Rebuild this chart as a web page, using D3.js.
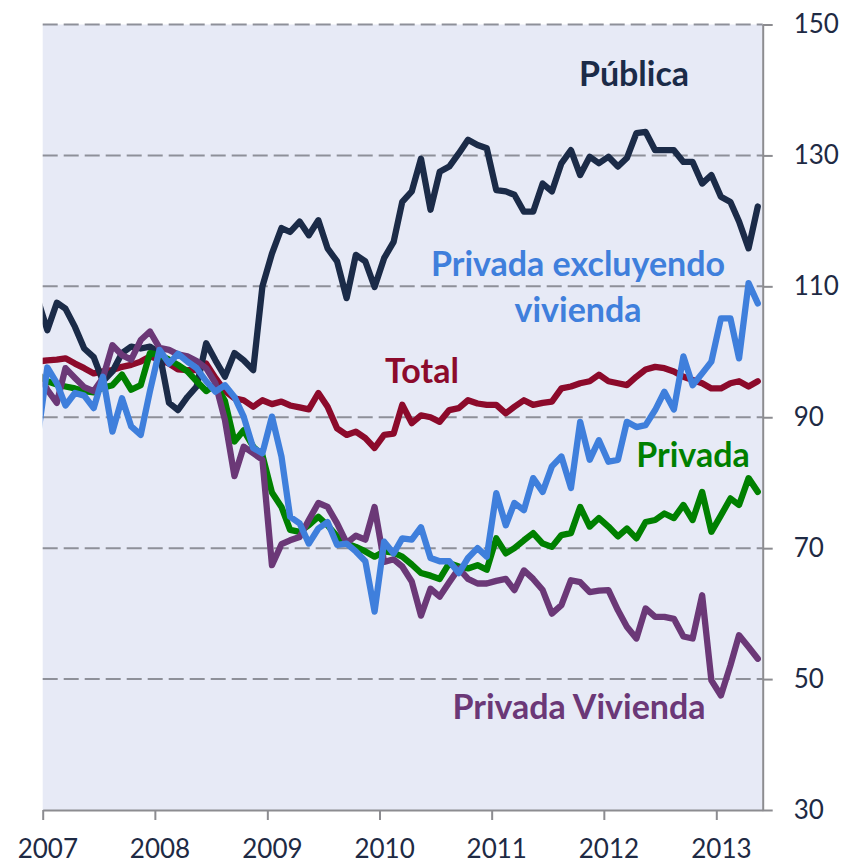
<!DOCTYPE html>
<html>
<head>
<meta charset="utf-8">
<script src="https://cdn.jsdelivr.net/npm/d3@7"></script>
<style>
  body { margin: 0; background: #fff; }
  svg { display: block; font-family: "Lato", "Open Sans", sans-serif; }
</style>
</head>
<body>
<div id="chart"></div>
<script>
// monthly index values, Dec 2006 .. May 2013
const publica = [108, 103.3, 107.5, 106.6, 103.8, 100.5, 99.2, 95.5, 97, 99.8, 100.8, 100.5, 100.8, 99.8, 92.2, 91.1, 93.1, 94.7, 101.3, 98.7, 96.2, 99.8, 98.7, 97.2, 110, 115, 118.9, 118.3, 119.9, 117.8, 120.1, 115.8, 113.8, 108.2, 114.8, 113.8, 109.9, 114.3, 116.8, 122.9, 124.5, 129.5, 121.7, 127.5, 128.3, 130.3, 132.4, 131.6, 131.1, 124.7, 124.5, 124, 121.4, 121.4, 125.7, 124.5, 128.8, 130.8, 127, 129.8, 128.8, 129.8, 128.3, 129.6, 133.4, 133.6, 130.8, 130.8, 130.8, 129, 129, 125.7, 127, 123.7, 122.9, 119.9, 115.8, 122.2];
const total = [98.5, 98.7, 98.8, 99, 98.2, 97.5, 96.7, 97, 97.2, 97.7, 98, 98.5, 99.3, 98.8, 98.2, 97.3, 97.2, 97.2, 98.2, 96, 94, 92.9, 92.6, 91.6, 92.6, 92, 92.4, 91.8, 91.5, 91.2, 93.7, 91.6, 88.3, 87.3, 87.8, 86.8, 85.3, 87.3, 87.5, 91.9, 89.1, 90.3, 90, 89.3, 91.1, 91.4, 92.6, 92.1, 91.9, 91.9, 90.6, 91.6, 92.6, 91.9, 92.2, 92.4, 94.4, 94.7, 95.2, 95.5, 96.5, 95.5, 95.2, 94.9, 96.2, 97.3, 97.7, 97.5, 97, 96.2, 95.7, 95.2, 94.4, 94.4, 95.2, 95.5, 94.7, 95.5];
const privada = [96.5, 95.5, 95, 94.7, 94.4, 94, 93.8, 94.5, 94.9, 96.5, 94.2, 94.9, 99.8, 99.5, 98.8, 98, 97, 95.5, 94, 95, 92.5, 86.3, 88, 85.5, 84.2, 78.5, 76.3, 72.8, 72.5, 73.5, 74.8, 73.5, 71.8, 70.7, 70.2, 69.5, 68.7, 69.5, 69.3, 68.7, 67.5, 66.2, 65.8, 65.3, 67.7, 67.2, 66.9, 67.4, 66.7, 71.5, 69.2, 70, 71.2, 72.3, 70.7, 70.2, 72, 72.3, 76.3, 73.3, 74.6, 73.3, 71.8, 73, 71.5, 74, 74.3, 75.3, 74.6, 76.6, 74.3, 78.6, 72.5, 75, 77.6, 76.6, 80.7, 78.6];
const privadaExclViv = [87, 97.6, 95.2, 91.8, 93.7, 93.3, 91.4, 96.2, 87.8, 92.9, 88.6, 87.3, 94, 100.3, 98.2, 99.7, 98.5, 97.5, 95.5, 93.9, 94.9, 93.1, 90.1, 85.3, 84.5, 90.1, 84, 74.8, 73.8, 70.7, 73, 74, 70.5, 70.7, 69.5, 68, 60.3, 71, 69.2, 71.5, 71.3, 73.2, 68.5, 68, 68, 66.2, 68.5, 70, 68.7, 78.4, 73.5, 76.9, 75.8, 80.7, 78.6, 82.5, 84, 79.2, 89.3, 83.5, 86.5, 83.2, 83.5, 89.3, 88.5, 88.8, 91.1, 93.9, 91.2, 99.3, 94.9, 96.7, 98.5, 105.1, 105.1, 99, 110.5, 107.4];
const privadaVivienda = [97, 94.2, 92.2, 97.5, 96, 94.6, 94, 96, 101, 99.5, 98.8, 101.8, 103.1, 100.6, 100.3, 99.6, 99.3, 98.6, 97.5, 95.2, 89.6, 81, 85.5, 84.5, 83.5, 67.4, 70.6, 71.2, 71.7, 74.3, 76.9, 76.3, 73.8, 70.8, 71.9, 71.3, 76.3, 67.9, 68.3, 67.2, 64.9, 59.7, 63.8, 62.6, 64.8, 66.9, 65.3, 64.6, 64.6, 65, 65.3, 63.6, 66.6, 65.3, 63.6, 60, 61.3, 65.1, 64.8, 63.3, 63.5, 63.6, 60.5, 58, 56.2, 60.8, 59.5, 59.5, 59.2, 56.5, 56.2, 62.8, 49.8, 47.5, 52.1, 56.7, 54.9, 53.1];

const yTicks = [30, 50, 70, 90, 110, 130, 150];
const gridTicks = [50, 70, 90, 110, 130, 150];
const yearTicks = [2007, 2008, 2009, 2010, 2011, 2012, 2013];

const months = d3.timeMonth.range(new Date(2006, 11, 1), new Date(2013, 5, 1));

// drawing order: last one ends on top
const series = [
    { name: "Total", values: total, color: "#8C0A2B" },
    { name: "Pública", values: publica, color: "#1B2B48" },
    { name: "Privada", values: privada, color: "#008000" },
    { name: "Privada Vivienda", values: privadaVivienda, color: "#6B3877" },
    { name: "Privada excluyendo vivienda", values: privadaExclViv, color: "#3F7FDC" }
];

const labels = [
    { lines: ["Pública"], x: 634, y: 86, color: "#1B2B48" },
    { lines: ["Privada excluyendo", "vivienda"], x: 578, y: 276, color: "#3F7FDC" },
    { lines: ["Total"], x: 422, y: 383, color: "#8C0A2B" },
    { lines: ["Privada"], x: 693, y: 467, color: "#008000" },
    { lines: ["Privada Vivienda"], x: 579, y: 719, color: "#6B3877" }
];

const width = 844, height = 864;
const margin = { top: 24.5, right: 81.3, bottom: 54, left: 42.7 };
const innerW = width - margin.left - margin.right;
const innerH = height - margin.top - margin.bottom;

const svg = d3.select("#chart")
    .append("svg")
    .attr("width", width)
    .attr("height", height);

const x = d3.scaleTime()
    .domain([new Date(2007, 0, 1), new Date(2013, 5, 1)])
    .range([0, innerW]);

const y = d3.scaleLinear()
    .domain([30, 150])
    .range([innerH, 0]);

const g = svg.append("g")
    .attr("transform", `translate(${margin.left},${margin.top})`);

g.append("rect")
    .attr("width", innerW)
    .attr("height", innerH)
    .attr("fill", "#E7EAF6");

g.append("clipPath")
    .attr("id", "plotclip")
    .append("rect")
    .attr("width", innerW)
    .attr("height", innerH);

// dashed gridlines
g.selectAll(".grid")
    .data(gridTicks)
    .enter()
    .append("line")
    .attr("x1", 0)
    .attr("x2", innerW)
    .attr("y1", d => y(d))
    .attr("y2", d => y(d))
    .style("stroke", "#8E9099")
    .style("stroke-width", 2)
    .style("stroke-dasharray", "15,6");

// lines, points sit mid-month
const midMonth = d => d3.timeDay.offset(d, 15);

const line = d3.line()
    .x((d, i) => x(midMonth(months[i])))
    .y(d => y(d));

const lineGroup = g.append("g").attr("clip-path", "url(#plotclip)");

series.forEach(s => {
    lineGroup.append("path")
        .datum(s.values)
        .attr("d", line)
        .style("fill", "none")
        .style("stroke", s.color)
        .style("stroke-width", 6.3)
        .style("stroke-linejoin", "round")
        .style("stroke-linecap", "round");
});

// axes
const axisColor = "#8C8C90";
const textColor = "#1E2A44";

const yAxis = g.append("g")
    .attr("transform", `translate(${innerW},0)`)
    .call(d3.axisRight(y).tickValues(yTicks).tickSize(10).tickSizeOuter(0).tickPadding(21));

const xAxis = g.append("g")
    .attr("transform", `translate(0,${innerH})`)
    .call(d3.axisBottom(x)
        .tickValues(yearTicks.map(yr => new Date(yr, 0, 1)))
        .tickFormat(d3.timeFormat("%Y"))
        .tickSize(10)
        .tickSizeOuter(0)
        .tickPadding(20));

const labelShift = x(midMonth(new Date(2007, 0, 1))) - x(new Date(2007, 0, 1));
xAxis.selectAll("text").attr("dx", labelShift);

[xAxis, yAxis].forEach(ax => {
    ax.select(".domain").style("stroke", axisColor).style("stroke-width", 2);
    ax.selectAll(".tick line").style("stroke", axisColor).style("stroke-width", 2);
    ax.selectAll("text")
        .style("font-family", "Lato, 'Open Sans', sans-serif")
        .style("font-size", "26px")
        .style("fill", textColor);
});

// series labels
labels.forEach(l => {
    const t = svg.append("text")
        .attr("text-anchor", "middle")
        .style("font-size", "34px")
        .style("font-weight", "bold")
        .style("fill", l.color);
    l.lines.forEach((s, i) => {
        t.append("tspan")
            .attr("x", l.x)
            .attr("y", l.y + i * 45.5)
            .text(s);
    });
});
</script>
</body>
</html>
